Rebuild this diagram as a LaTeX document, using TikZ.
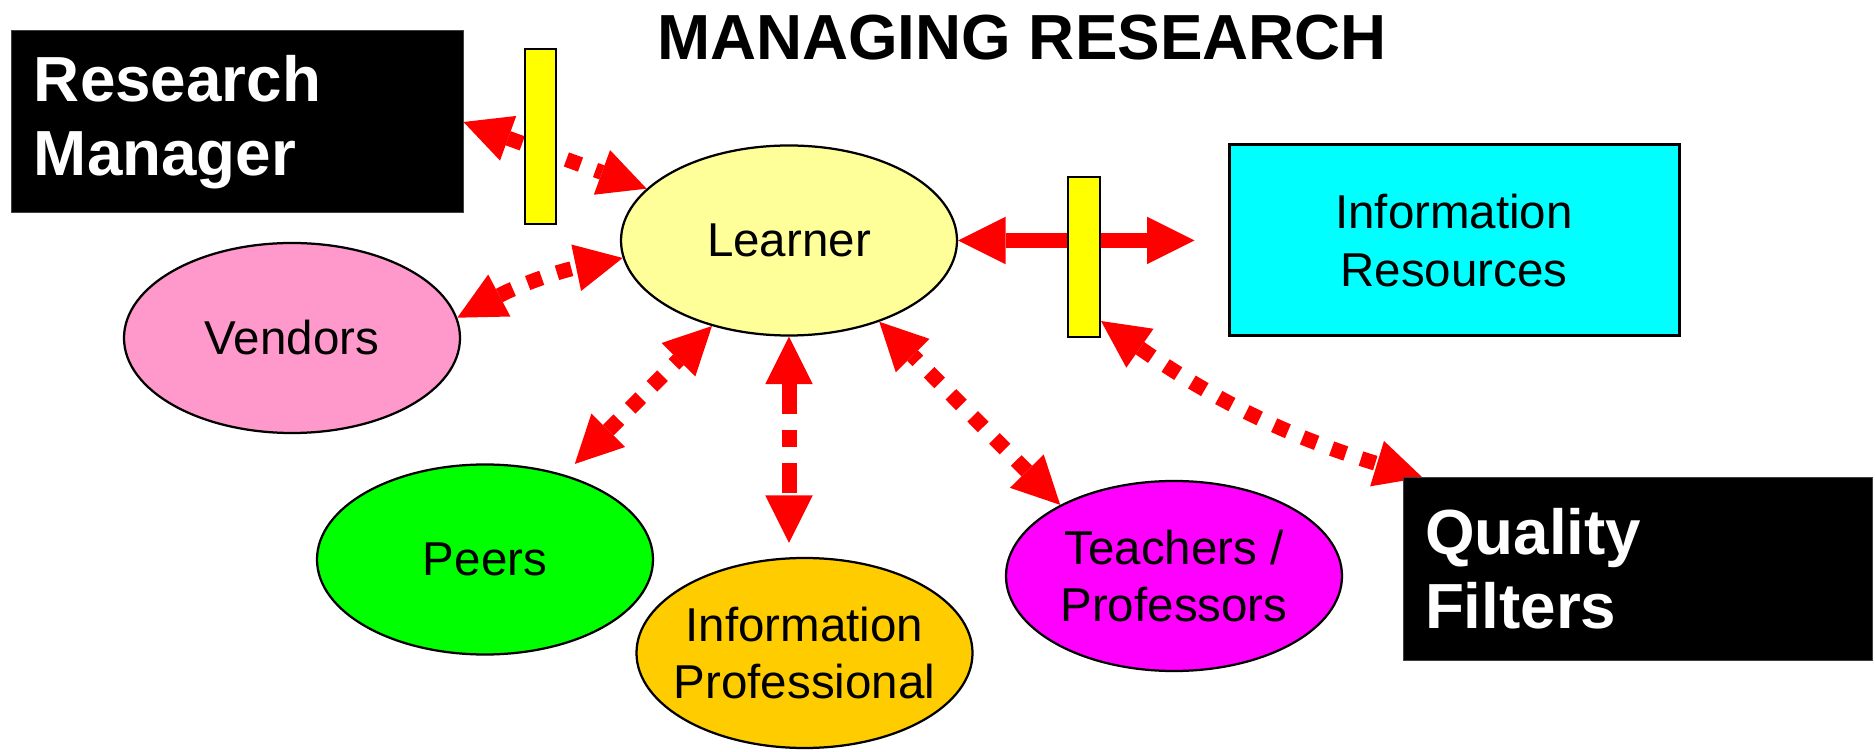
\documentclass[tikz,border=0pt]{standalone}
\usepackage{fontspec}
\setmainfont{Liberation Sans}
\usetikzlibrary{shapes.geometric, arrows.meta, backgrounds}

\definecolor{paleyellow}{HTML}{FFFF99}
\definecolor{vendorpink}{HTML}{FF99CC}
\definecolor{peergreen}{HTML}{00FF00}
\definecolor{proforange}{HTML}{FFCC00}
\definecolor{teachmagenta}{HTML}{FF00FF}
\definecolor{rescyan}{HTML}{00FFFF}
\definecolor{gateyellow}{HTML}{FFFF00}
\definecolor{linkred}{HTML}{FF0000}

\begin{document}
\begin{tikzpicture}[
				x = 0.4pt, y = -0.4pt, % one unit per pixel, y downwards
				> = {Triangle[length=19pt, width=19pt, line width=0pt]}, % arrow head style
				blob/.style = {ellipse, draw, line width=0.9pt, minimum width=134.4pt, minimum height=76pt,
					inner xsep=-8pt, inner ysep=0pt, align=center, font=\fontsize{19}{23}\selectfont},
				darkbox/.style = {rectangle, fill=black, draw=black!75, text=white, inner xsep=8.8pt,
					minimum height=72.8pt, align=left, font=\fontsize{25.5}{29.6}\selectfont\bfseries},
				gate/.style = {rectangle, draw, fill=gateyellow, line width=0.8pt, inner sep=0pt},
				link/.style = {<->, linkred, line width=6pt, dash pattern=on 6pt off 6.4pt}
				]
				
				\useasboundingbox (0,0) rectangle (1875,752);
				
				\node[font=\fontsize{25.5}{30}\selectfont\bfseries, anchor=base] (title) at (1022,60) {MANAGING RESEARCH};
				
				\node[darkbox, text width=162.8pt] (manager) at (237.5,122) {Research\\Manager};
				\node[darkbox, text width=170pt] (quality) at (1637.5,569) {Quality\\Filters};
				\node[rectangle, draw, line width=1.2pt, fill=rescyan, minimum width=180pt, minimum height=76.4pt,
					align=center, font=\fontsize{19}{23}\selectfont] (resources) at (1454,240.5) {Information\\Resources};
				
				\node[blob, fill=paleyellow] (learner) at (789,240.5) {Learner};
				\node[blob, fill=vendorpink] (vendors) at (292,338) {Vendors};
				\node[blob, fill=peergreen] (peers) at (485,559.5) {Peers};
				\node[blob, fill=proforange] (infopro) at (804.5,653) {Information\\Professional};
				\node[blob, fill=teachmagenta] (teachers) at (1174,576) {Teachers /\\Professors};
				
				\node[gate, minimum width=12.4pt, minimum height=70pt] (barA) at (540.5,136.5) {};
				\node[gate, minimum width=12.8pt, minimum height=64pt] (barB) at (1084,257) {};
				
				\coordinate (proftip) at ([yshift=5.6pt]infopro.north);
				
				\begin{scope}[on background layer]
					\path[link]
					(manager.east) edge (learner.160)
					(vendors.7) edge [bend left=8] (learner.186)
					(peers.47) edge [shorten <=6pt] (learner.228)
					(teachers.148) edge (learner.-42)
					([yshift=6.8pt]barB.south east) edge [bend right=9] ([xshift=8pt]quality.north west);
					\path[link, dash pattern=on 12pt off 6.5pt on 6.5pt off 6.5pt]
					(learner.south) edge (learner.south |- proftip);
					\draw[<->, linkred, line width=6pt] (learner.east) -- ([xshift=-13.2pt]resources.west);
				\end{scope}
			\end{tikzpicture}
\end{document}
